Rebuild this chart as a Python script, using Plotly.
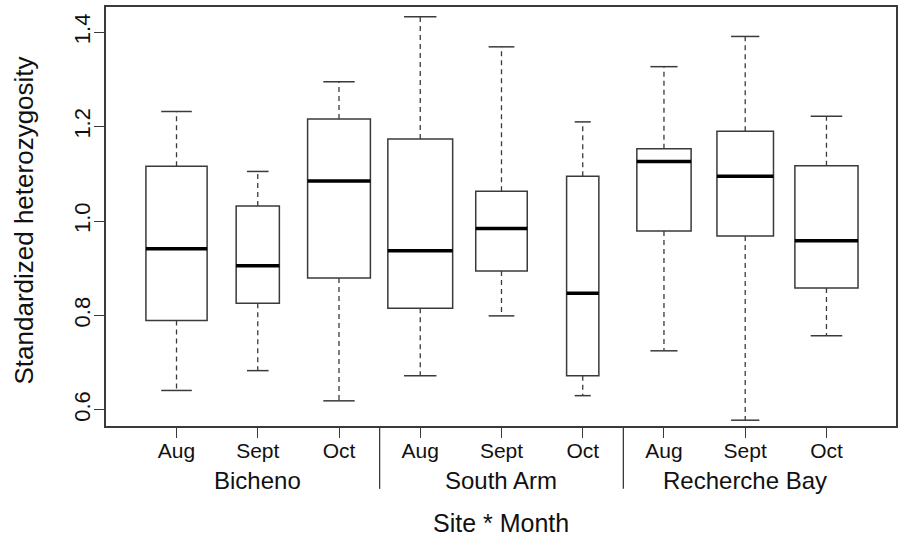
import plotly.graph_objects as go

# ---- data ----
sites = ["Bicheno", "South Arm", "Recherche Bay"]
months = ["Aug", "Sept", "Oct"]
tick_labels = months * 3

lower_whisker = [0.641, 0.683, 0.619, 0.672, 0.799, 0.630, 0.725, 0.578, 0.757]
q1_values     = [0.789, 0.826, 0.879, 0.815, 0.894, 0.672, 0.979, 0.968, 0.858]
median_values = [0.941, 0.905, 1.085, 0.937, 0.984, 0.847, 1.126, 1.095, 0.958]
q3_values     = [1.116, 1.032, 1.216, 1.174, 1.063, 1.095, 1.153, 1.190, 1.117]
upper_whisker = [1.232, 1.105, 1.295, 1.433, 1.369, 1.210, 1.327, 1.391, 1.222]

# relative box widths (varwidth boxplot)
box_widths = [0.753, 0.532, 0.773, 0.798, 0.634, 0.397, 0.668, 0.696, 0.777]

positions = list(range(1, len(tick_labels) + 1))

FONT = "Liberation Sans, Arial, sans-serif"
LINE = "#3a3a3a"

fig = go.Figure()

# boxes
for p, lo, q1, md, q3, hi, w in zip(positions, lower_whisker, q1_values, median_values,
                                    q3_values, upper_whisker, box_widths):
    fig.add_trace(go.Box(
        x=[p], q1=[q1], median=[md], q3=[q3], lowerfence=[q1], upperfence=[q3],
        width=w, whiskerwidth=0, fillcolor="white",
        line=dict(color=LINE, width=1.5), boxpoints=False, showlegend=False,
        hoverinfo="skip"))

# whiskers (dashed)
wx, wy = [], []
for p, lo, q1, q3, hi in zip(positions, lower_whisker, q1_values, q3_values, upper_whisker):
    wx += [p, p, None, p, p, None]
    wy += [q3, hi, None, q1, lo, None]
fig.add_trace(go.Scatter(x=wx, y=wy, mode="lines",
                         line=dict(color=LINE, width=1.3, dash="5px,4px"),
                         showlegend=False, hoverinfo="skip"))

# staples
cx, cy = [], []
for p, lo, hi, w in zip(positions, lower_whisker, upper_whisker, box_widths):
    h = w / 4
    cx += [p - h, p + h, None, p - h, p + h, None]
    cy += [hi, hi, None, lo, lo, None]
fig.add_trace(go.Scatter(x=cx, y=cy, mode="lines",
                         line=dict(color=LINE, width=1.5),
                         showlegend=False, hoverinfo="skip"))

# medians (thick)
mx, my = [], []
for p, md, w in zip(positions, median_values, box_widths):
    mx += [p - w / 2, p + w / 2, None]
    my += [md, md, None]
fig.add_trace(go.Scatter(x=mx, y=my, mode="lines",
                         line=dict(color="black", width=3.5),
                         showlegend=False, hoverinfo="skip"))

# group separators and site labels
for k in range(1, len(sites)):
    xs = 3 * k + 0.5
    fig.add_shape(type="line", xref="x", yref="paper", x0=xs, x1=xs, y0=0, y1=-0.150,
                  line=dict(color=LINE, width=1.3))
for k, s in enumerate(sites):
    fig.add_annotation(x=3 * k + 2, xref="x", y=-0.13, yref="paper", text=s,
                       showarrow=False, yanchor="middle",
                       font=dict(family=FONT, size=24, color="#111"))

fig.add_annotation(x=0.5, xref="paper", y=-0.232, yref="paper", text="Site * Month",
                   showarrow=False, yanchor="middle",
                   font=dict(family=FONT, size=25, color="#111"))
fig.add_annotation(x=-0.104, xref="paper", y=0.49, yref="paper",
                   text="Standardized heterozygosity", textangle=-90,
                   showarrow=False, xanchor="center", yanchor="middle",
                   font=dict(family=FONT, size=26, color="#111"))

fig.update_layout(
    width=901, height=539,
    margin=dict(l=106, r=3, t=7, b=113),
    paper_bgcolor="white", plot_bgcolor="white",
    boxmode="overlay", showlegend=False,
    font=dict(family=FONT, color="#111"),
    xaxis=dict(range=[0.132, 9.856], tickvals=positions, ticktext=tick_labels,
               ticks="outside", ticklen=10, tickcolor=LINE, tickwidth=1.3,
               ticklabelstandoff=-5,
               showline=True, linecolor=LINE, linewidth=1.5, mirror=True,
               showgrid=False, zeroline=False, tickfont=dict(size=21)),
    yaxis=dict(range=[0.5657, 1.4534], tickvals=[0.6, 0.8, 1.0, 1.2, 1.4],
               ticktext=["0.6", "0.8", "1.0", "1.2", "1.4"], tickangle=-90,
               ticks="outside", ticklen=10, tickcolor=LINE, tickwidth=1.3,
               ticklabelstandoff=-5,
               showline=True, linecolor=LINE, linewidth=1.5, mirror=True,
               showgrid=False, zeroline=False, tickfont=dict(size=22)),
)

fig.write_html("out.html", config={"displayModeBar": False},
               post_script="document.body.style.margin='0';document.body.style.overflow='hidden';")
